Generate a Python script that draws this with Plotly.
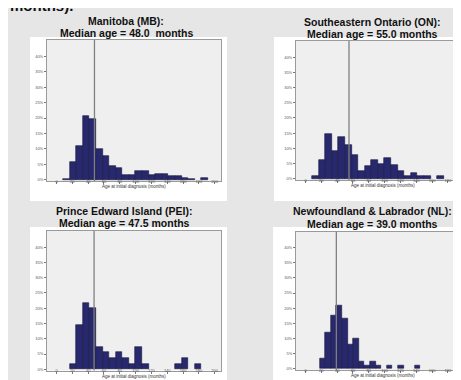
import plotly.graph_objects as go

# ---------------- data ----------------
x_tick_vals = [0, 20, 40, 60, 80, 100, 120, 140, 160, 180, 200]
y_tick_vals = [0, 5, 10, 15, 20, 25, 30, 35, 40]
y_tick_text = ["0%", "5%", "10%", "15%", "20%", "25%", "30%", "35%", "40%"]
x_axis_title = "Age at initial diagnosis (months)"

mb_title = ["Manitoba (MB):", "Median age = 48.0  months"]
mb_median = 48.0
mb_bin_start, mb_bin_width = 8.2, 8.33
mb_pct = [0.4, 5.7, 11.1, 20.8, 19.8, 9.9, 7.8, 4.5, 3.8, 1.6, 1.6, 3.0, 3.0,
          1.4, 1.8, 1.8, 1.3, 1.3, 0.5, 0.3, 0.0, 0.6]

on_title = ["Southeastern Ontario (ON):", "Median age = 55.0 months"]
on_median = 55.0
on_bin_start, on_bin_width = 8.2, 8.33
on_pct = [0.9, 6.1, 14.7, 9.3, 13.7, 11.2, 7.8, 2.5, 4.3, 6.1, 5.0, 6.8, 4.5,
          2.7, 0.9, 2.0, 0.9, 0.9, 0.0, 0.9]

pei_title = ["Prince Edward Island (PEI):", "Median age = 47.5 months"]
pei_median = 47.5
pei_bin_start, pei_bin_width = 8.2, 8.33
pei_pct = [0.0, 1.8, 14.5, 21.8, 20.0, 7.3, 5.5, 3.6, 5.5, 3.6, 1.8, 7.3, 1.8,
           0.0, 0.0, 0.0, 0.0, 1.8, 3.6, 0.0, 1.8]

nl_title = ["Newfoundland & Labrador (NL):", "Median age = 39.0 months"]
nl_median = 39.0
nl_bin_start, nl_bin_width = 17.9, 7.08
nl_pct = [3.5, 12.0, 17.7, 21.0, 16.6, 8.0, 10.0, 2.4, 1.2, 2.4, 1.2, 0.0, 1.2,
          0.0, 1.2, 0.0, 0.0, 1.2]

panels = [
    (mb_title, mb_median, mb_bin_start, mb_bin_width, mb_pct),
    (on_title, on_median, on_bin_start, on_bin_width, on_pct),
    (pei_title, pei_median, pei_bin_start, pei_bin_width, pei_pct),
    (nl_title, nl_median, nl_bin_start, nl_bin_width, nl_pct),
]

# ---------------- layout geometry (pixels) ----------------
W, H = 461, 380
def px(x):
    return x / W
def py(y):
    return 1 - y / H

# plot boxes: (left, right, top, bottom) in px
boxes = [(39, 213, 32, 173), (288, 461, 33, 172), (39, 213, 223, 362.5), (288, 461, 223.5, 362)]
white_panels = [(22, 219, 29, 193), (266, 461, 29, 193), (22, 219, 219, 380), (265, 461, 219, 380)]
title_pos = [(118, 13, 24.5), (364, 14.5, 26), (116, 203, 215), (364, 203, 215.5)]
px_per_month = 0.791
x_lo = -12
y_range = [-0.4, 45.3]

fig = go.Figure()
shapes = []
annotations = []

for (l, r, t, b) in white_panels:
    shapes.append(dict(type="rect", xref="paper", yref="paper", x0=px(l), x1=px(r),
                       y0=py(b), y1=py(t), fillcolor="white", line=dict(width=0), layer="below"))

for i, (title, median, bstart, bwidth, pct) in enumerate(panels):
    n = i + 1
    sfx = "" if n == 1 else str(n)
    l, r, t, b = boxes[i]
    xs, ys = [], []
    for k, v in enumerate(pct):
        if v > 0:
            xs.append(bstart + (k + 0.5) * bwidth)
            ys.append(v)
    fig.add_trace(go.Bar(x=xs, y=ys, width=bwidth, xaxis="x" + sfx, yaxis="y" + sfx,
                         marker=dict(color="#28286f", line=dict(color="#15153a", width=0.6)),
                         showlegend=False, hoverinfo="skip"))
    right_col = (i % 2 == 1)
    x_hi = x_lo + (r - l) / px_per_month
    fig.layout["xaxis" + sfx] = dict(
        domain=[px(l), px(r)], range=[x_lo, x_hi], anchor="y" + sfx,
        tickvals=x_tick_vals, ticktext=[str(v) for v in x_tick_vals],
        tickfont=dict(size=4, color="#555555", family="Liberation Sans"),
        ticks="outside", ticklen=2, tickwidth=0.5, tickcolor="#777777",
        ticklabelstandoff=-6,
        showgrid=False, zeroline=False, showline=True, linecolor="#9a9a9a",
        linewidth=1, mirror=True, fixedrange=True)
    fig.layout["yaxis" + sfx] = dict(
        domain=[py(b), py(t)], range=y_range, anchor="x" + sfx,
        tickvals=y_tick_vals, ticktext=y_tick_text,
        tickfont=dict(size=4, color="#555555", family="Liberation Sans"),
        ticks="outside", ticklen=2, tickwidth=0.5, tickcolor="#777777",
        showgrid=False, zeroline=False, showline=True, linecolor="#9a9a9a",
        linewidth=1, mirror=not right_col, fixedrange=True)
    # gray plot area
    shapes.append(dict(type="rect", xref="paper", yref="paper", x0=px(l), x1=px(r),
                       y0=py(b), y1=py(t), fillcolor="#efefef", line=dict(width=0), layer="below"))
    # median line
    shapes.append(dict(type="line", xref="x" + sfx, yref="y" + sfx + " domain",
                       x0=median, x1=median, y0=0, y1=1,
                       line=dict(color="#808080", width=1.3), layer="above"))
    # titles
    tx, ty1, ty2 = title_pos[i]
    for text, yy in ((title[0], ty1), (title[1], ty2)):
        annotations.append(dict(text="<b>" + text + "</b>", xref="paper", yref="paper",
                                x=px(tx), y=py(yy), xanchor="center", yanchor="middle",
                                showarrow=False,
                                font=dict(size=10.5, color="#111111", family="Liberation Sans")))
    # x axis title
    cx = (l + r) / 2 if not right_col else l + 87
    annotations.append(dict(text=x_axis_title, xref="paper", yref="paper",
                            x=px(cx), y=py(b + 5.5), xanchor="center", yanchor="middle",
                            showarrow=False, borderpad=0,
                            font=dict(size=4.5, color="#333333", family="Liberation Sans")))

# cut-off slide text at the very top
annotations.append(dict(text="<b>months).</b>", xref="paper", yref="paper", x=0, y=1.006,
                        xanchor="left", yanchor="middle", showarrow=False,
                        font=dict(size=15, color="#111111", family="Liberation Sans")))

fig.update_layout(width=W, height=H, margin=dict(l=0, r=0, t=0, b=0),
                  paper_bgcolor="#e6e6e6", plot_bgcolor="rgba(0,0,0,0)",
                  bargap=0, shapes=shapes, annotations=annotations, showlegend=False)

fig.write_html("out.html")
